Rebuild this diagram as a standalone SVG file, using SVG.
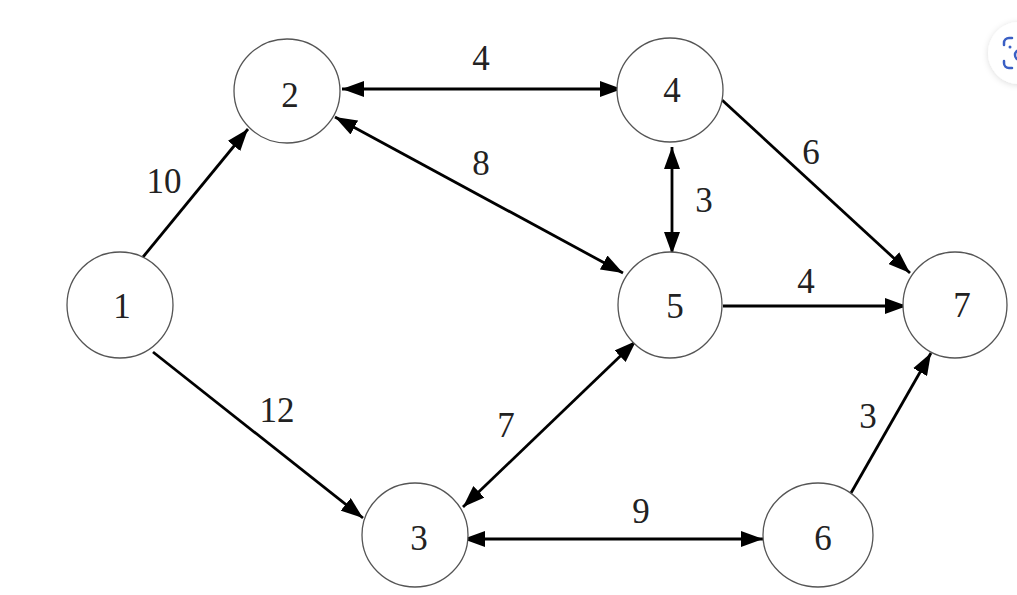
<svg xmlns="http://www.w3.org/2000/svg" width="1017" height="595" viewBox="0 0 1017 595">
<style>
.node ellipse{fill:#fff;stroke:#555;stroke-width:1.3}
text{font-family:"Liberation Serif","Times New Roman",serif;font-size:35px;fill:#222;text-anchor:middle}
.edge{stroke:#000;stroke-width:2.8;fill:none}
</style>
<defs>
<marker id="ah" viewBox="0 0 22 16" refX="22" refY="8" markerWidth="22" markerHeight="16" markerUnits="userSpaceOnUse" orient="auto-start-reverse">
<path d="M0,0 L22,8 L0,16 z" fill="#000"/>
</marker>
<filter id="sh" x="-50%" y="-50%" width="200%" height="200%">
<feDropShadow dx="0" dy="1" stdDeviation="3" flood-color="#000" flood-opacity="0.14"/>
</filter>
</defs>
<rect width="1017" height="595" fill="#fff"/>
<g id="connectors">
<line class="edge" x1="143" y1="257" x2="248" y2="129" marker-end="url(#ah)"/>
<line class="edge" x1="153" y1="352" x2="363" y2="518" marker-end="url(#ah)"/>
<line class="edge" x1="342" y1="89" x2="622" y2="89" marker-start="url(#ah)" marker-end="url(#ah)"/>
<line class="edge" x1="335" y1="117" x2="623" y2="273" marker-start="url(#ah)" marker-end="url(#ah)"/>
<line class="edge" x1="672" y1="147" x2="672" y2="254" marker-start="url(#ah)" marker-end="url(#ah)" stroke-width="3.2"/>
<line class="edge" x1="722" y1="100" x2="910" y2="273" marker-end="url(#ah)"/>
<line class="edge" x1="723" y1="306" x2="907" y2="306" marker-end="url(#ah)"/>
<line class="edge" x1="636" y1="341" x2="463" y2="507" marker-start="url(#ah)" marker-end="url(#ah)"/>
<line class="edge" x1="463" y1="539" x2="763" y2="539" marker-start="url(#ah)" marker-end="url(#ah)"/>
<line class="edge" x1="851" y1="493" x2="931" y2="353" marker-end="url(#ah)"/>
</g>
<g id="edge-labels">
<text x="164" y="193">10</text>
<text x="277" y="422">12</text>
<text x="481" y="70">4</text>
<text x="481" y="175">8</text>
<text x="704" y="212">3</text>
<text x="811" y="164">6</text>
<text x="806" y="293">4</text>
<text x="506" y="437">7</text>
<text x="641" y="523">9</text>
<text x="868" y="428">3</text>
</g>
<g id="node1" class="node"><ellipse cx="120" cy="305" rx="53" ry="53"/><text x="122" y="318">1</text></g>
<g id="node2" class="node"><ellipse cx="287" cy="91" rx="53" ry="52"/><text x="290" y="107">2</text></g>
<g id="node3" class="node"><ellipse cx="415" cy="535" rx="53" ry="52"/><text x="419" y="550">3</text></g>
<g id="node4" class="node"><ellipse cx="670" cy="90" rx="53" ry="52"/><text x="672" y="102">4</text></g>
<g id="node5" class="node"><ellipse cx="670" cy="305" rx="52" ry="53"/><text x="675" y="318">5</text></g>
<g id="node6" class="node"><ellipse cx="818" cy="535" rx="55" ry="52"/><text x="823" y="550">6</text></g>
<g id="node7" class="node"><ellipse cx="955" cy="305" rx="52" ry="53"/><text x="962" y="317">7</text></g>
<g id="lens-button">
<circle cx="1019" cy="53" r="31" fill="#fff" filter="url(#sh)"/>
<path d="M1004,45 v-2 a5,5 0 0 1 5,-5 h3 M1004,61 v2 a5,5 0 0 0 5,5 h3" fill="none" stroke="#3a5fc4" stroke-width="2.5" stroke-linecap="round"/>
<circle cx="1010" cy="47" r="1.5" fill="#3a5fc4"/>
<circle cx="1020" cy="55" r="5" fill="none" stroke="#3a5fc4" stroke-width="2.5"/>
</g>
</svg>
